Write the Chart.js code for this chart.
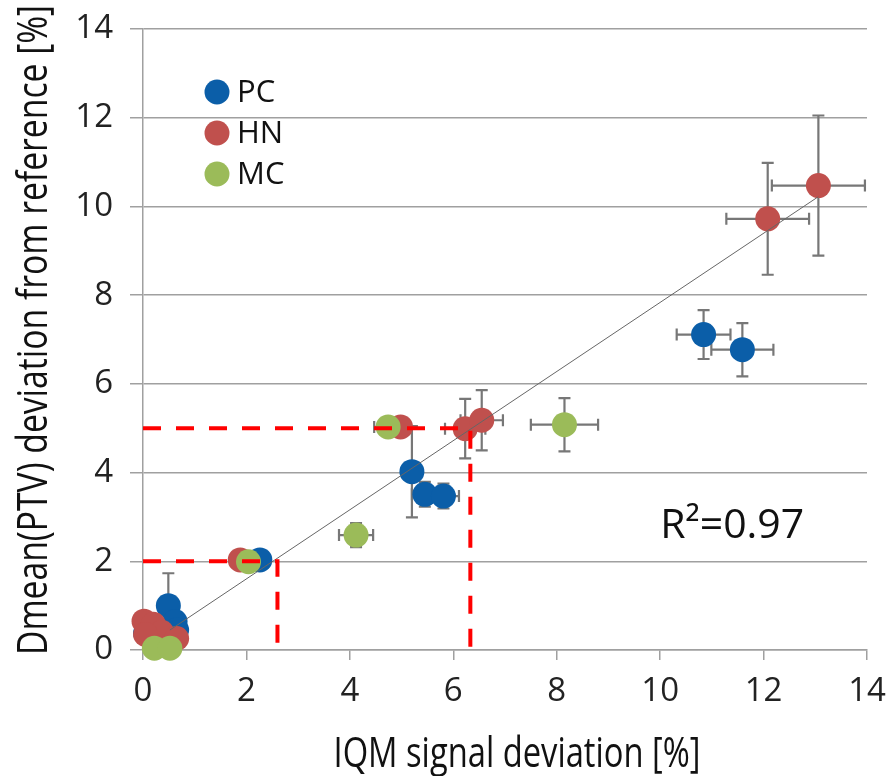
<!DOCTYPE html>
<html>
<head>
<meta charset="utf-8">
<script src="https://cdn.jsdelivr.net/npm/chart.js@4.4.0/dist/chart.umd.min.js"></script>
<style>
  html, body { margin: 0; padding: 0; background: #fff; }
  #wrap { width: 891px; height: 776px; }
</style>
</head>
<body>
<div id="wrap"><canvas id="devChart" width="891" height="776"></canvas></div>
<script>
// series: PC, HN, MC (x = IQM deviation, y = Dmean deviation, errors are half-widths)
const pcX    = [0.05, 0.49, 0.62, 0.65, 2.26, 5.20, 5.45, 5.81, 10.84, 11.59];
const pcY    = [0.38, 1.00, 0.64, 0.45, 2.03, 4.02, 3.51, 3.47, 7.11, 6.77];
const pcErrX = [0, 0, 0, 0, 0, 0, 0.25, 0.30, 0.52, 0.60];
const pcErrY = [0, 0.73, 0, 0, 0, 1.03, 0.28, 0.28, 0.55, 0.60];

const hnX    = [0.02, 0.20, 0.36, 0.65, 0.05, 1.88, 4.98, 6.23, 6.55, 12.08, 13.06];
const hnY    = [0.65, 0.58, 0.40, 0.26, 0.35, 2.03, 5.03, 4.99, 5.18, 9.72, 10.47];
const hnErrX = [0, 0, 0, 0, 0, 0, 0, 0.39, 0.41, 0.80, 0.90];
const hnErrY = [0, 0, 0, 0, 0, 0, 0, 0.67, 0.68, 1.26, 1.58];

const mcX    = [0.22, 0.52, 2.04, 4.12, 4.74, 8.15];
const mcY    = [0.04, 0.04, 1.99, 2.59, 5.03, 5.08];
const mcErrX = [0, 0, 0, 0.33, 0.27, 0.65];
const mcErrY = [0, 0, 0, 0.27, 0, 0.60];

// linear fit line and red dashed guides
const fitX = [0.52, 13.06];
const fitY = [0.45, 10.22];
const guideLowX  = [0, 2.6, 2.6];
const guideLowY  = [2, 2, 0];
const guideHighX = [0, 6.33, 6.33];
const guideHighY = [5, 5, 0];

const seriesNames  = ['PC', 'HN', 'MC'];
const seriesColors = ['#0B5EA8', '#C0504D', '#9BBB59'];
const r2Label = 'R\u00B2=0.97';
const xTitle = 'IQM signal deviation [%]';
const yTitle = 'Dmean(PTV) deviation from reference [%]';

const xTicks = [0, 2, 4, 6, 8, 10, 12, 14];
const yTicks = [0, 2, 4, 6, 8, 10, 12, 14];

function pts(xs, ys) {
    return xs.map(function(v, i) { return { x: v, y: ys[i] }; });
}

// Error bars drawn under the dots
const errorBars = {
    id: 'errorBars',
    beforeDatasetsDraw(chart) {
        const ctx = chart.ctx;
        const xs = chart.scales.x, ys = chart.scales.y;
        const cap = 6;
        ctx.save();
        ctx.strokeStyle = '#777777';
        ctx.lineWidth = 2.2;
        chart.data.datasets.forEach(function(ds) {
            if (!ds.errX) return;
            ds.data.forEach(function(p, i) {
                const px = xs.getPixelForValue(p.x);
                const py = ys.getPixelForValue(p.y);
                const ex = ds.errX[i], ey = ds.errY[i];
                ctx.beginPath();
                if (ex) {
                    const l = xs.getPixelForValue(p.x - ex);
                    const r = xs.getPixelForValue(p.x + ex);
                    ctx.moveTo(l, py); ctx.lineTo(r, py);
                    ctx.moveTo(l, py - cap); ctx.lineTo(l, py + cap);
                    ctx.moveTo(r, py - cap); ctx.lineTo(r, py + cap);
                }
                if (ey) {
                    const t = ys.getPixelForValue(p.y + ey);
                    const b = ys.getPixelForValue(p.y - ey);
                    ctx.moveTo(px, t); ctx.lineTo(px, b);
                    ctx.moveTo(px - cap, t); ctx.lineTo(px + cap, t);
                    ctx.moveTo(px - cap, b); ctx.lineTo(px + cap, b);
                }
                ctx.stroke();
            });
        });
        ctx.restore();
    }
};

// condensed axis title: squeeze horizontally to the wanted length
function narrowText(ctx, text, cx, cy, length, rot) {
    ctx.save();
    ctx.font = '42px "Open Sans"';
    ctx.fillStyle = '#111';
    ctx.textAlign = 'center';
    ctx.textBaseline = 'alphabetic';
    const w = ctx.measureText(text).width;
    ctx.translate(cx, cy);
    ctx.rotate(rot);
    ctx.scale(length / w, 1);
    ctx.fillText(text, 0, 0);
    ctx.restore();
}

// Legend inside the plot, R2 label and axis titles
const innerLegend = {
    id: 'innerLegend',
    afterDraw(chart) {
        const ctx = chart.ctx;
        const area = chart.chartArea;
        ctx.save();
        ctx.font = '31px "Open Sans"';
        ctx.textBaseline = 'middle';
        ctx.textAlign = 'left';
        seriesNames.forEach(function(name, i) {
            const cy = area.top + 63 + i * 41;
            ctx.fillStyle = seriesColors[i];
            ctx.beginPath();
            ctx.arc(area.left + 74, cy, 12.5, 0, Math.PI * 2);
            ctx.fill();
            ctx.fillStyle = '#111';
            ctx.fillText(name, area.left + 94, cy + 1);
        });
        ctx.font = '41px "Open Sans"';
        ctx.textBaseline = 'alphabetic';
        ctx.fillText(r2Label, chart.scales.x.getPixelForValue(10.0), chart.scales.y.getPixelForValue(2.52));
        ctx.restore();

        narrowText(ctx, xTitle, 517, 767, 367, 0);
        narrowText(ctx, yTitle, 47, 330, 650, -Math.PI / 2);
    }
};

function dotSet(idx, xs, ys, ex, ey, order) {
    return {
        label: seriesNames[idx],
        data: pts(xs, ys),
        errX: ex,
        errY: ey,
        backgroundColor: seriesColors[idx],
        borderColor: seriesColors[idx],
        pointRadius: 12.5,
        pointHoverRadius: 12.5,
        pointBorderWidth: 0,
        showLine: false,
        clip: false,
        order: order
    };
}

function lineSet(xs, ys, color, width, dash, order) {
    return {
        type: 'line',
        data: pts(xs, ys),
        borderColor: color,
        borderWidth: width,
        borderDash: dash,
        pointRadius: 0,
        fill: false,
        tension: 0,
        clip: false,
        order: order
    };
}

document.addEventListener('DOMContentLoaded', function() {
    const ctx = document.getElementById('devChart').getContext('2d');
    new Chart(ctx, {
        type: 'scatter',
        data: {
            datasets: [
                dotSet(0, pcX, pcY, pcErrX, pcErrY, 5),
                dotSet(1, hnX, hnY, hnErrX, hnErrY, 4),
                dotSet(2, mcX, mcY, mcErrX, mcErrY, 3),
                lineSet(fitX, fitY, '#666666', 1, [], 2),
                lineSet(guideLowX, guideLowY, '#FF0000', 4, [18, 15], 1),
                lineSet(guideHighX, guideHighY, '#FF0000', 4, [18, 15], 0)
            ]
        },
        options: {
            responsive: false,
            animation: false,
            layout: { padding: { top: 29, right: 24, left: 0, bottom: 0 } },
            plugins: {
                legend: { display: false },
                tooltip: { enabled: false }
            },
            scales: {
                x: {
                    type: 'linear',
                    min: 0, max: 14,
                    afterBuildTicks: function(s) { s.ticks = xTicks.map(function(v) { return { value: v }; }); },
                    afterFit: function(s) { s.height = 126; s.paddingLeft = 0; s.paddingRight = 0; },
                    grid: { drawOnChartArea: false, drawTicks: true, tickLength: 10, color: '#A0A0A0', lineWidth: 1.5 },
                    border: { display: true, color: '#A0A0A0', width: 1.5 },
                    ticks: { padding: 12, color: '#222', font: { family: '"Open Sans"', size: 33 } },
                    title: { display: false }
                },
                y: {
                    type: 'linear',
                    min: 0, max: 14,
                    afterBuildTicks: function(s) { s.ticks = yTicks.map(function(v) { return { value: v }; }); },
                    afterFit: function(s) { s.width = 143; s.paddingTop = 0; s.paddingBottom = 0; },
                    grid: { drawOnChartArea: true, drawTicks: true, tickLength: 13, color: '#A0A0A0', lineWidth: 1.5 },
                    border: { display: true, color: '#A0A0A0', width: 1.5 },
                    ticks: { padding: 17, color: '#222', font: { family: '"Open Sans"', size: 33 } },
                    title: { display: false }
                }
            }
        },
        plugins: [errorBars, innerLegend]
    });
});
</script>
</body>
</html>
